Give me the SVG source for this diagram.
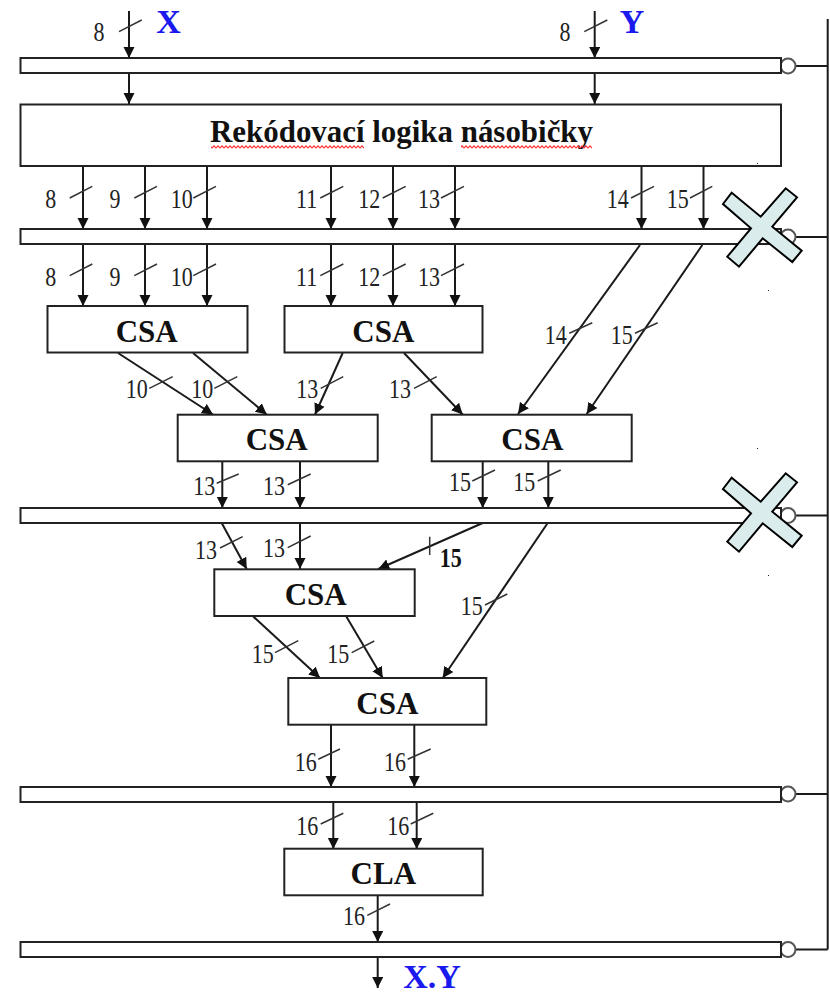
<svg xmlns="http://www.w3.org/2000/svg" width="830" height="995" viewBox="0 0 830 995">
<style>
text{font-family:"Liberation Serif","Times New Roman",serif}
.box{fill:#fff;stroke:#222;stroke-width:2}
.pin{fill:#fff;stroke:#555;stroke-width:2}
.ln{fill:none;stroke:#1a1a1a;stroke-width:2}
.ar{fill:none;stroke:#1a1a1a;stroke-width:2;marker-end:url(#ah)}
.tk{fill:none;stroke:#333;stroke-width:1.5}
.n{font-size:22px;fill:#222;text-anchor:middle}
.b{font-size:31px;font-weight:bold;fill:#111;text-anchor:middle}
.t{font-size:34px;font-weight:bold;fill:#1a1aee;text-anchor:middle}
.x{fill:#dbecec;stroke:#000;stroke-width:2;stroke-linejoin:miter}
</style>
<defs>
<marker id="ah" markerUnits="userSpaceOnUse" markerWidth="12" markerHeight="12" refX="11" refY="5.5" orient="auto"><path d="M0 0L11 5.5L0 11Z" fill="#111"/></marker>
<pattern id="wave" patternUnits="userSpaceOnUse" x="0" y="145" width="4" height="4"><path d="M0 3.2L2 0.8L4 3.2" fill="none" stroke="#f33" stroke-width="1.1"/></pattern>
<polygon id="cross" points="731.7,192.7 760.7,216.7 785.7,188.3 797,197.3 772.3,226.7 801.7,250.7 792.3,262 762.7,238.3 739,266.7 727.3,256.7 751,228.3 723,204"/>
</defs>
<rect width="830" height="995" fill="#fff"/>
<g id="connectors">
<path class="ln" d="M827.7 19V949.5M795 66H827.7M795 237H827.7M795 515.5H827.7M795 794H827.7M795 949.5H827.7"/>
<path class="ar" d="M129 11V58"/><path class="ar" d="M594.7 11V58"/>
<path class="ar" d="M129 73V104"/><path class="ar" d="M594.7 73V104"/>
<path class="ar" d="M83 166V229"/><path class="ar" d="M145 166V229"/><path class="ar" d="M207 166V229"/><path class="ar" d="M331 166V229"/><path class="ar" d="M393 166V229"/><path class="ar" d="M455 166V229"/><path class="ar" d="M641.5 166V229"/><path class="ar" d="M703.5 166V229"/>
<path class="ar" d="M83 244V306"/><path class="ar" d="M145 244V306"/><path class="ar" d="M207 244V306"/><path class="ar" d="M331 244V306"/><path class="ar" d="M393 244V306"/><path class="ar" d="M455 244V306"/>
<path class="ar" d="M640 245L518 414"/><path class="ar" d="M702.3 245L586.7 414"/>
<path class="ar" d="M118 353L213 414.5"/><path class="ar" d="M193 353L266.7 414.5"/><path class="ar" d="M342.7 353L315 414.5"/><path class="ar" d="M404 353L462.7 414.5"/>
<path class="ar" d="M222.3 461V508"/><path class="ar" d="M300 461V508"/><path class="ar" d="M482.7 461V508"/><path class="ar" d="M548.3 461V508"/>
<path class="ar" d="M221.7 523L246.7 569"/><path class="ar" d="M300 523V569"/><path class="ar" d="M482.7 523L378.3 569"/><path class="ar" d="M547.7 523L442.7 678"/>
<path class="ar" d="M252.7 616L320 678"/><path class="ar" d="M346 616L382.7 678"/>
<path class="ar" d="M331 725V787"/><path class="ar" d="M414.3 725V787"/>
<path class="ar" d="M333.3 802V849"/><path class="ar" d="M416.7 802V849"/>
<path class="ar" d="M377.7 895.5V942"/><path class="ar" d="M377.7 957V988"/>
<path class="tk" d="M119 31.7L141.7 20M584.3 31.7L607.3 20M69.7 198L92.3 186.3M134.3 198L157 186.3M193.3 198L216 186.3M320.3 198L343.3 186.3M382.7 198L405.7 186.3M441 198L464 186.3M631 198L654 186.3M690 198L712.3 186.3M69.7 275.7L92.3 264M134.3 275.7L157 264M193.3 275.7L216 264M320.3 275.7L343.3 264M382.7 275.7L405.7 264M441 275.7L464 264M149.3 388.3L172.7 376.7M214.3 388.3L237.3 376.7M320.7 388.3L343.3 376.7M414 388.3L436.7 376.7M569.3 333.3L592.3 322.7M635 333.3L657.7 322.7M216.7 483.3L238.7 474M287.7 484.7L310.7 474M472.3 481L495 470M537.7 481L560.7 470M220 548L242.7 536.7M287.7 547.7L310.7 536M429.7 536.7V555M485 605L507.3 594M275 652.7L298.3 640.7M351.7 652.7L374.3 641M318.3 759.3L340 749M407.7 759.3L430.7 749M320.7 824L343.3 813.3M410.7 824L433.3 813.3M367.3 915.3L390 904"/>
</g>
<g id="reg1"><circle class="pin" cx="788" cy="66" r="7.5"/><rect class="box" x="20.5" y="58" width="760.5" height="15"/></g>
<g id="reg2"><circle class="pin" cx="788" cy="237" r="7.5"/><rect class="box" x="20.5" y="229" width="760.5" height="15"/></g>
<g id="reg3"><circle class="pin" cx="788" cy="515.5" r="7.5"/><rect class="box" x="20.5" y="508" width="760.5" height="15"/></g>
<g id="reg4"><circle class="pin" cx="788" cy="794" r="7.5"/><rect class="box" x="20.5" y="787" width="760.5" height="15"/></g>
<g id="reg5"><circle class="pin" cx="788" cy="949.5" r="7.5"/><rect class="box" x="20.5" y="942" width="760.5" height="15"/></g>
<g id="recode"><rect class="box" x="20.5" y="104.5" width="760.5" height="61.5"/>
<text class="b" x="401.5" y="142" textLength="383" lengthAdjust="spacingAndGlyphs">Rekódovací logika násobičky</text>
<rect x="211" y="145" width="153" height="4" fill="url(#wave)"/>
<rect x="461" y="145" width="131" height="4" fill="url(#wave)"/>
</g>
<g id="csa1"><rect class="box" x="47.5" y="306" width="200" height="46.5"/><text class="b" x="146.7" y="342">CSA</text></g>
<g id="csa2"><rect class="box" x="284.5" y="306" width="198" height="46.5"/><text class="b" x="383.3" y="342">CSA</text></g>
<g id="csa3"><rect class="box" x="177.7" y="414.7" width="200" height="46.6"/><text class="b" x="276.7" y="450">CSA</text></g>
<g id="csa4"><rect class="box" x="431.7" y="414.7" width="200" height="46.6"/><text class="b" x="532.3" y="450">CSA</text></g>
<g id="csa5"><rect class="box" x="214.3" y="569.3" width="200.4" height="46.7"/><text class="b" x="315.7" y="605">CSA</text></g>
<g id="csa6"><rect class="box" x="288.3" y="678" width="198" height="46.7"/><text class="b" x="387.3" y="714">CSA</text></g>
<g id="cla"><rect class="box" x="284.3" y="848.7" width="198.4" height="46.6"/><text class="b" x="383.3" y="884">CLA</text></g>
<g id="labels">
<text class="n" transform="translate(99 41) scale(1 1.2)">8</text>
<text class="n" transform="translate(565 41) scale(1 1.2)">8</text>
<text class="n" transform="translate(50.7 208.3) scale(1 1.2)">8</text>
<text class="n" transform="translate(115 208.3) scale(1 1.2)">9</text>
<text class="n" transform="translate(181.7 208.3) scale(1 1.2)">10</text>
<text class="n" transform="translate(306.7 208.3) scale(1 1.2)">11</text>
<text class="n" transform="translate(369.3 208.3) scale(1 1.2)">12</text>
<text class="n" transform="translate(429 208.3) scale(1 1.2)">13</text>
<text class="n" transform="translate(617.7 208.3) scale(1 1.2)">14</text>
<text class="n" transform="translate(677.7 208.3) scale(1 1.2)">15</text>
<text class="n" transform="translate(50.7 286) scale(1 1.2)">8</text>
<text class="n" transform="translate(115 286) scale(1 1.2)">9</text>
<text class="n" transform="translate(181.7 286) scale(1 1.2)">10</text>
<text class="n" transform="translate(306.7 286) scale(1 1.2)">11</text>
<text class="n" transform="translate(369.3 286) scale(1 1.2)">12</text>
<text class="n" transform="translate(429 286) scale(1 1.2)">13</text>
<text class="n" transform="translate(136.7 398.3) scale(1 1.2)">10</text>
<text class="n" transform="translate(202.3 398.3) scale(1 1.2)">10</text>
<text class="n" transform="translate(307.3 398.3) scale(1 1.2)">13</text>
<text class="n" transform="translate(400 398.3) scale(1 1.2)">13</text>
<text class="n" transform="translate(555.7 344) scale(1 1.2)">14</text>
<text class="n" transform="translate(621.7 344) scale(1 1.2)">15</text>
<text class="n" transform="translate(204.3 495) scale(1 1.2)">13</text>
<text class="n" transform="translate(274 495) scale(1 1.2)">13</text>
<text class="n" transform="translate(460 491) scale(1 1.2)">15</text>
<text class="n" transform="translate(524.3 491) scale(1 1.2)">15</text>
<text class="n" transform="translate(206 559) scale(1 1.2)">13</text>
<text class="n" transform="translate(274 556.7) scale(1 1.2)">13</text>
<text class="n" transform="translate(471.7 615) scale(1 1.2)">15</text>
<text class="n" transform="translate(262.7 663) scale(1 1.2)">15</text>
<text class="n" transform="translate(338.3 663) scale(1 1.2)">15</text>
<text class="n" transform="translate(305.7 770.7) scale(1 1.2)">16</text>
<text class="n" transform="translate(395 770.7) scale(1 1.2)">16</text>
<text class="n" transform="translate(307.3 834.7) scale(1 1.2)">16</text>
<text class="n" transform="translate(398.3 834.7) scale(1 1.2)">16</text>
<text class="n" transform="translate(354 925.3) scale(1 1.2)">16</text>
<text class="n" transform="translate(450.7 566.7) scale(1 1.2)" style="font-weight:bold;fill:#111">15</text>
<text class="t" x="168.5" y="33">X</text>
<text class="t" x="632" y="33">Y</text>
<text class="t" x="432" y="988">X.Y</text>
</g>
<g id="crosses">
<use href="#cross" class="x"/>
<use href="#cross" class="x" y="285"/>
</g>
<g id="specks" fill="#222">
<rect x="757" y="163" width="1" height="1"/><rect x="768" y="290" width="1" height="1"/><rect x="757" y="448" width="1" height="1"/><rect x="768" y="575" width="1" height="1"/>
</g>
</svg>
